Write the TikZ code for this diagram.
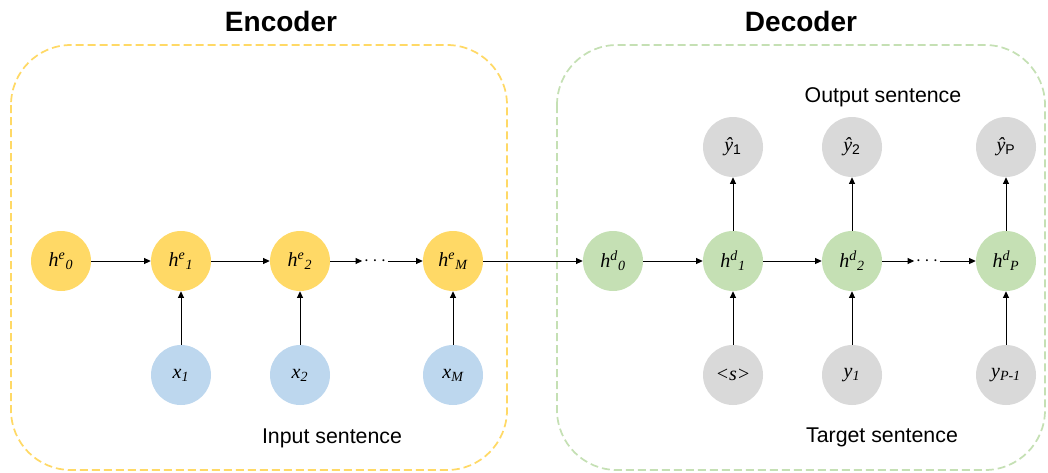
\documentclass[tikz,border=0pt]{standalone}
\usepackage{fontspec}
\setmainfont{Liberation Sans}
\newfontfamily\rmit{Liberation Serif}[ItalicFont={Liberation Serif Italic}]
\usetikzlibrary{positioning,arrows.meta}

\definecolor{encfill}{HTML}{FFD966}
\definecolor{inpfill}{HTML}{BDD7EE}
\definecolor{decfill}{HTML}{C5E0B4}
\definecolor{tokfill}{HTML}{D9D9D9}

% italic serif symbol with staggered super/subscript
\newcommand{\hvec}[2]{{\rmit\itshape h\textsuperscript{#1}\textsubscript{#2}}}

\begin{document}
\begin{tikzpicture}[x=0.75pt,y=-0.75pt,
  every node/.style={font=\fontsize{15}{17}\selectfont},
  cell/.style={circle,minimum size=45pt,inner sep=0pt},
  enc/.style={cell,fill=encfill},
  inp/.style={cell,fill=inpfill},
  dec/.style={cell,fill=decfill},
  tok/.style={cell,fill=tokfill},
  arr/.style={line width=0.75pt,-{Triangle[length=5pt,width=4.5pt]}},
  frame/.style={line width=1.3pt,dash pattern=on 6pt off 3pt,rounded corners=45pt},
  title/.style={font=\fontsize{21}{24}\selectfont\bfseries},
  caption/.style={font=\fontsize{16}{18}\selectfont}]
\useasboundingbox (0,0) rectangle (1048,472);

% frames and titles
\draw[frame,encfill] (11,45) rectangle (507,470);
\draw[frame,decfill] (557,45) rectangle (1045,470);
\node[title] (enctitle) at (281,21) {Encoder};
\node[title] (dectitle) at (801,21) {Decoder};

% encoder
\node[enc] (he0) at (61,261) {\hvec{e}{0}};
\node[enc] (he1) at (181,261) {\hvec{e}{1}};
\node[enc] (he2) at (300,261) {\hvec{e}{2}};
\node[inner sep=1pt] (edots) at (375,261) {$\cdots$};
\node[enc] (heM) at (453,261) {\hvec{e}{M}};
\node[inp] (x1) at (181,375) {{\rmit\itshape x\textsubscript{1}}};
\node[inp] (x2) at (300,375) {{\rmit\itshape x\textsubscript{2}}};
\node[inp] (xM) at (453,375) {{\rmit\itshape x\textsubscript{M}}};
\node[caption] (inlab) at (332,438) {Input sentence};

% decoder
\node[dec] (hd0) at (613,261) {\hvec{d}{0}};
\node[dec] (hd1) at (733,261) {\hvec{d}{1}};
\node[dec] (hd2) at (852,261) {\hvec{d}{2}};
\node[inner sep=1pt] (ddots) at (927,261) {$\cdots$};
\node[dec] (hdP) at (1006,261) {\hvec{d}{P}};
\node[tok] (s0) at (733,375) {{\rmit\itshape <s>}};
\node[tok] (y1) at (852,375) {{\rmit\itshape y\textsubscript{1}}};
\node[tok] (yP) at (1006,375) {{\rmit\itshape y\textsubscript{P-1}}};
\node[tok] (o1) at (733,147) {{\rmit\itshape ŷ}\textsubscript{1}};
\node[tok] (o2) at (852,147) {{\rmit\itshape ŷ}\textsubscript{2}};
\node[tok] (oP) at (1006,147) {{\rmit\itshape ŷ}\textsubscript{P}};
\node[caption] (outlab) at (883,97) {Output sentence};
\node[caption] (tgtlab) at (882,437) {Target sentence};

% recurrent links
\draw[arr] (he0) -- (he1);
\draw[arr] (he1) -- (he2);
\draw[arr] (he2) -- (edots);
\draw[arr] (edots) -- (heM);
\draw[arr] (heM) -- (hd0);
\draw[arr] (hd0) -- (hd1);
\draw[arr] (hd1) -- (hd2);
\draw[arr] (hd2) -- (ddots);
\draw[arr] (ddots) -- (hdP);

% inputs and outputs
\foreach \a/\b in {x1/he1,x2/he2,xM/heM,s0/hd1,y1/hd2,yP/hdP,hd1/o1,hd2/o2,hdP/oP}
  \draw[arr] (\a) -- (\b);
\end{tikzpicture}
\end{document}
